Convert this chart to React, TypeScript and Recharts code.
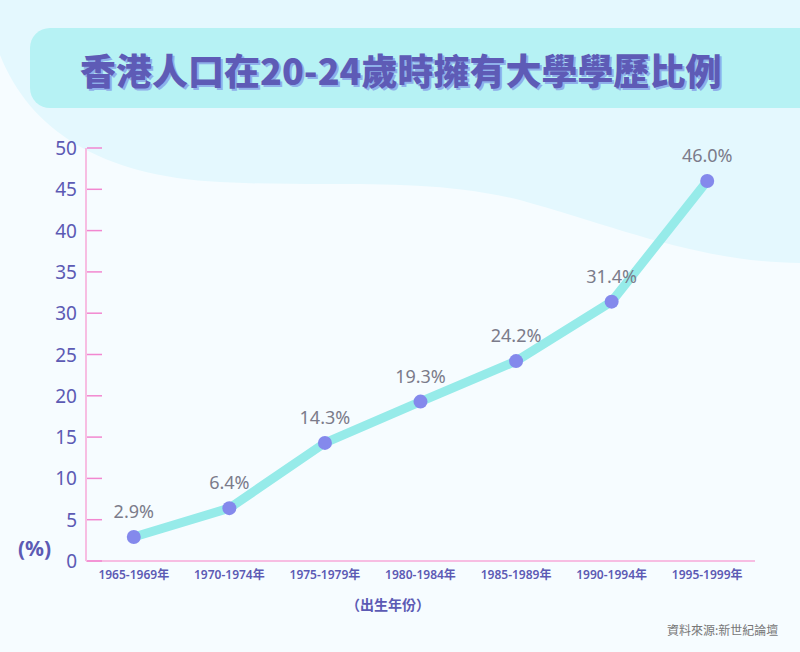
import React from 'react';
import { LineChart, Line, XAxis, YAxis, LabelList } from 'recharts';

// 出生年份組別 / 20-24歲時擁有大學學歷比例 (%)
const cohorts = ['1965-1969年', '1970-1974年', '1975-1979年', '1980-1984年', '1985-1989年', '1990-1994年', '1995-1999年'];
const degreeRates = [2.9, 6.4, 14.3, 19.3, 24.2, 31.4, 46.0];
const yTicks = [0, 5, 10, 15, 20, 25, 30, 35, 40, 45, 50];

const data = cohorts.map((c, i) => ({ cohort: c, rate: degreeRates[i] }));

const PURPLE = '#5c5ab4';
const PINK_AXIS = '#f7bde2';
const PINK_TICK = '#f287d0';

const YTick = (props: any) => {
  const { x, y, payload } = props;
  return (
    <g>
      <line x1={x + 10} x2={x + 25} y1={y} y2={y} stroke={PINK_TICK} strokeWidth={1.5} />
      <text
        x={x}
        y={y}
        dy={7}
        textAnchor="end"
        fill={PURPLE}
        fontSize={19}
        fontFamily="'Noto Sans', sans-serif"
      >
        {payload.value}
      </text>
    </g>
  );
};

const App: React.FC = () => {
  return (
    <div
      style={{
        position: 'absolute',
        left: 0,
        top: 0,
        width: 800,
        height: 652,
        overflow: 'hidden',
        background: '#f6fcff',
        fontFamily: "'Noto Sans CJK TC', 'Noto Sans', sans-serif",
      }}
    >
      {/* background wave */}
      <svg width={800} height={652} style={{ position: 'absolute', left: 0, top: 0 }}>
        <path
          d="M0,0 L0,55 C30,130 100,176 220,182 C330,188 420,176 520,200 C620,228 700,262 800,263 L800,0 Z"
          fill="#e4f8fe"
        />
      </svg>

      {/* title bar */}
      <div
        style={{
          position: 'absolute',
          left: 30,
          top: 28,
          width: 800,
          height: 80,
          background: '#b6f2f4',
          borderRadius: '20px 0 0 20px',
        }}
      />
      <div
        style={{
          position: 'absolute',
          left: 80,
          top: 44,
          width: 650,
          height: 50,
          lineHeight: '50px',
          fontSize: 36,
          fontWeight: 900,
          color: '#5e5bb6',
          textShadow: '2px 2px 0 #8fb0ea',
          whiteSpace: 'nowrap',
        }}
      >
        香港人口在20-24歲時擁有大學學歷比例
      </div>

      <div style={{ position: 'absolute', left: 0, top: 0 }}>
        <LineChart
          width={800}
          height={652}
          data={data}
          margin={{ top: 148, right: 45, bottom: 61, left: 0 }}
        >
          <XAxis
            dataKey="cohort"
            scale="band"
            height={30}
            axisLine={{ stroke: PINK_AXIS, strokeWidth: 2 }}
            tickLine={false}
            tickSize={0}
            tickMargin={9}
            interval={0}
            tick={{ fill: PURPLE, fontSize: 12, fontWeight: 600, fontFamily: "'Noto Sans', 'Noto Sans CJK TC', sans-serif" }}
          />
          <YAxis
            width={86}
            domain={[0, 50]}
            ticks={yTicks}
            interval={0}
            axisLine={{ stroke: PINK_AXIS, strokeWidth: 2 }}
            tickLine={false}
            tickSize={0}
            tickMargin={9}
            tick={<YTick />}
          />
          <Line
            type="linear"
            dataKey="rate"
            stroke="#96ebe9"
            strokeWidth={9}
            strokeLinejoin="round"
            dot={{ r: 7, fill: '#8489ec', stroke: 'none' }}
            activeDot={false}
            isAnimationActive={false}
          >
            <LabelList
              dataKey="rate"
              position="top"
              offset={19}
              formatter={(v: any) => `${Number(v).toFixed(1)}%`}
              fill="#7b7b8a"
              fontSize={18}
              fontFamily="'Noto Sans', sans-serif"
            />
          </Line>
        </LineChart>
      </div>

      <div
        style={{
          position: 'absolute',
          left: 18,
          top: 534,
          fontSize: 21,
          fontWeight: 700,
          color: PURPLE,
          fontFamily: "'Noto Sans', sans-serif",
        }}
      >
        (%)
      </div>
      <div
        style={{
          position: 'absolute',
          left: 346,
          top: 594,
          fontSize: 14,
          fontWeight: 700,
          color: PURPLE,
        }}
      >
        （出生年份）
      </div>
      <div
        style={{
          position: 'absolute',
          left: 667,
          top: 621,
          fontSize: 12,
          color: '#777777',
        }}
      >
        資料來源:新世紀論壇
      </div>
    </div>
  );
};

export default App;
